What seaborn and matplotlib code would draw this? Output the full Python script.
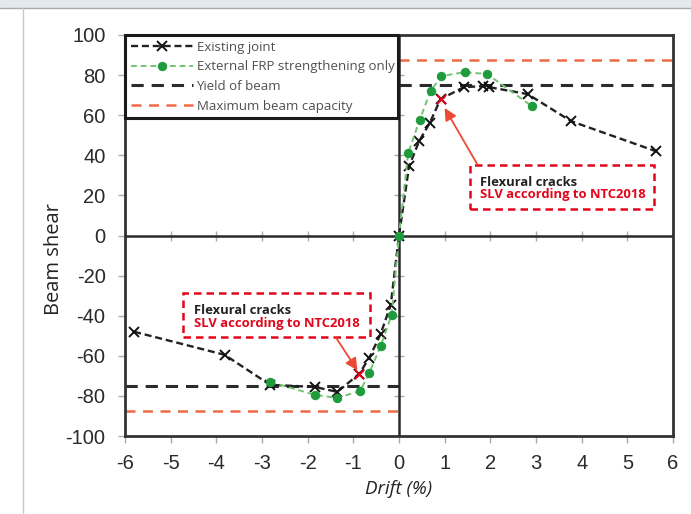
import numpy as np
import pandas as pd
import matplotlib
matplotlib.use("Agg")
import matplotlib.pyplot as plt
import seaborn as sns
from matplotlib.patches import Rectangle
from matplotlib.lines import Line2D

# ---------------- data ----------------
drift_existing = [-5.80, -3.82, -2.82, -1.85, -1.35, -0.87, -0.65, -0.40, -0.18, 0.0,
                  0.22, 0.44, 0.67, 0.91, 1.42, 1.85, 1.97, 2.82, 3.77, 5.63]
shear_existing = [-48.0, -59.5, -74.5, -75.5, -78.0, -69.0, -61.0, -49.0, -34.5, 0.0,
                  34.5, 47.0, 56.0, 68.0, 74.0, 74.5, 74.0, 70.5, 57.0, 42.0]

drift_frp = [-2.82, -1.84, -1.35, -0.85, -0.65, -0.40, -0.16, 0.0,
             0.20, 0.45, 0.69, 0.93, 1.44, 1.93, 2.91]
shear_frp = [-73.0, -79.5, -81.0, -77.5, -68.5, -55.0, -39.5, 0.0,
             41.0, 57.5, 72.0, 79.5, 81.5, 80.5, 64.5]

crack_drift = [-0.87, 0.91]
crack_shear = [-69.0, 68.0]

yield_shear = 75.0
max_capacity = 87.5

x_ticks = list(range(-6, 7))
y_ticks = list(range(-100, 101, 20))

legend_labels = ["Existing joint", "External FRP strengthening only",
                 "Yield of beam", "Maximum beam capacity"]
note_title = "Flexural cracks"
note_sub = "SLV according to NTC2018"

# ---------------- style ----------------
sns.set_theme(style="white")
plt.rcParams["font.family"] = ["Liberation Sans", "DejaVu Sans"]

BLACK = "#222222"
GREEN_LINE = "#72c472"
GREEN_PT = "#1e9b3c"
ORANGE = "#f06a48"
RED = "#e3051b"

fig = plt.figure(figsize=(6.91, 5.14), dpi=100)
fig.patch.set_facecolor("white")

# page decorations (top band + left rule)
fig.patches.append(Rectangle((0, 1 - 8 / 514), 1, 8 / 514, transform=fig.transFigure,
                             facecolor="#e3e9ec", edgecolor="none", zorder=0))
fig.add_artist(Line2D([0, 1], [1 - 8 / 514] * 2, transform=fig.transFigure,
                      color="#a3abb0", lw=1))
fig.add_artist(Line2D([23 / 691] * 2, [0, 1 - 8 / 514], transform=fig.transFigure,
                      color="#c9c9c9", lw=1))

ax = fig.add_axes([125 / 691, 78 / 514, 548 / 691, 401 / 514])

df_e = pd.DataFrame({"Drift": drift_existing, "Shear": shear_existing})
df_f = pd.DataFrame({"Drift": drift_frp, "Shear": shear_frp})
df_c = pd.DataFrame({"Drift": crack_drift, "Shear": crack_shear})

sns.lineplot(data=df_e, x="Drift", y="Shear", ax=ax, sort=False, color=BLACK,
             lw=1.7, linestyle=(0, (3, 1.6)), marker="x", markersize=7,
             markeredgewidth=1.4, markeredgecolor="#111111", zorder=4,
             label=legend_labels[0])
sns.lineplot(data=df_f, x="Drift", y="Shear", ax=ax, sort=False, color=GREEN_LINE,
             lw=1.4, linestyle=(0, (3, 2)), marker="o", markersize=6,
             markerfacecolor=GREEN_PT, markeredgecolor=GREEN_PT, zorder=5,
             label=legend_labels[1])
sns.scatterplot(data=df_c, x="Drift", y="Shear", ax=ax, marker="x", s=45,
                color=RED, linewidth=1.5, zorder=6, legend=False)

xmin, xmax = x_ticks[0], x_ticks[-1]
ax.plot([0, xmax], [yield_shear] * 2, color="#2b2b2b", lw=2.2,
        linestyle=(0, (4, 2.6)), zorder=2, label=legend_labels[2])
ax.plot([xmin, 0], [-yield_shear] * 2, color="#2b2b2b", lw=2.2,
        linestyle=(0, (4, 2.6)), zorder=2)
ax.plot([0, xmax], [max_capacity] * 2, color=ORANGE, lw=1.8,
        linestyle=(0, (4, 3)), zorder=2, label=legend_labels[3])
ax.plot([xmin, 0], [-max_capacity] * 2, color=ORANGE, lw=1.8,
        linestyle=(0, (4, 3)), zorder=2)

# central axes
ax.axhline(0, color="#2a2a2a", lw=1.8, zorder=3)
ax.axvline(0, color="#2a2a2a", lw=1.8, zorder=3)
ax.plot(x_ticks, [0] * len(x_ticks), ls="none", marker="|", ms=7,
        color="#aaaaaa", mew=1, zorder=2.5)
ax.plot([0] * len(y_ticks), y_ticks, ls="none", marker="_", ms=7,
        color="#aaaaaa", mew=1, zorder=2.5)

ax.set_xlim(xmin, xmax)
ax.set_ylim(y_ticks[0], y_ticks[-1])
ax.set_xticks(x_ticks)
ax.set_yticks(y_ticks)
ax.set_xticklabels([str(t) for t in x_ticks])
ax.set_yticklabels([str(t) for t in y_ticks])
ax.tick_params(axis="both", which="major", direction="out", length=5, width=1,
               color="#aaaaaa", labelsize=14.5, labelcolor="#2a2a2a",
               bottom=True, left=True)
ax.tick_params(axis="x", pad=8)
ax.tick_params(axis="y", pad=9)
for s in ax.spines.values():
    s.set_visible(True)
    s.set_color("#333333")
    s.set_linewidth(2)
ax.grid(False)

ax.set_xlabel("Drift (%)", fontsize=13.5, style="italic", color="#222222",
              family=["Open Sans", "DejaVu Sans"])
ax.xaxis.set_label_coords(0.5, -0.11)
ax.set_ylabel("Beam shear", fontsize=14.5, color="#222222",
              family=["Open Sans", "DejaVu Sans"])
ax.yaxis.set_label_coords(-0.111, 0.44)

# legend
handles, labels = ax.get_legend_handles_labels()
leg = ax.legend(handles, labels, loc="upper left", bbox_to_anchor=(0, 1, 0.4982, 0),
                mode="expand", frameon=True, fancybox=False, framealpha=1,
                edgecolor="#1a1a1a", borderaxespad=0, handlelength=4.75,
                handletextpad=0.25, labelspacing=0.51, borderpad=0.42,
                numpoints=1, prop={"family": ["Open Sans", "DejaVu Sans"], "size": 9.5})
leg.get_frame().set_linewidth(2.2)
for t in leg.get_texts():
    t.set_color("#505050")
leg.set_zorder(10)

# annotations
bold = {"family": ["Open Sans", "DejaVu Sans"], "weight": "bold", "size": 9.4}
ax.add_patch(Rectangle((1.55, 13.2), 4.03, 22.1, fill=False, ec=RED, lw=1.8,
                       ls=(0, (3, 2)), zorder=7))
ax.text(1.77, 26.4, note_title, color="#222222", va="center", ha="left", zorder=8, **bold)
ax.text(1.77, 20.2, note_sub, color=RED, va="center", ha="left", zorder=8, **bold)
ax.annotate("", xy=(1.0, 63.6), xytext=(1.72, 35.3),
            arrowprops=dict(arrowstyle="-|>", color="#ec4a34", lw=1.3,
                            mutation_scale=18, shrinkA=0, shrinkB=0), zorder=8)

ax.add_patch(Rectangle((-4.73, -50.75), 4.1, 22.0, fill=False, ec=RED, lw=1.8,
                       ls=(0, (3, 2)), zorder=7))
ax.text(-4.5, -37.3, note_title, color="#222222", va="center", ha="left", zorder=8, **bold)
ax.text(-4.5, -43.9, note_sub, color=RED, va="center", ha="left", zorder=8, **bold)
ax.annotate("", xy=(-0.91, -67.3), xytext=(-1.38, -50.9),
            arrowprops=dict(arrowstyle="-|>", color="#ec4a34", lw=1.3,
                            mutation_scale=18, shrinkA=0, shrinkB=0), zorder=8)

fig.savefig("out.png", dpi=100)
